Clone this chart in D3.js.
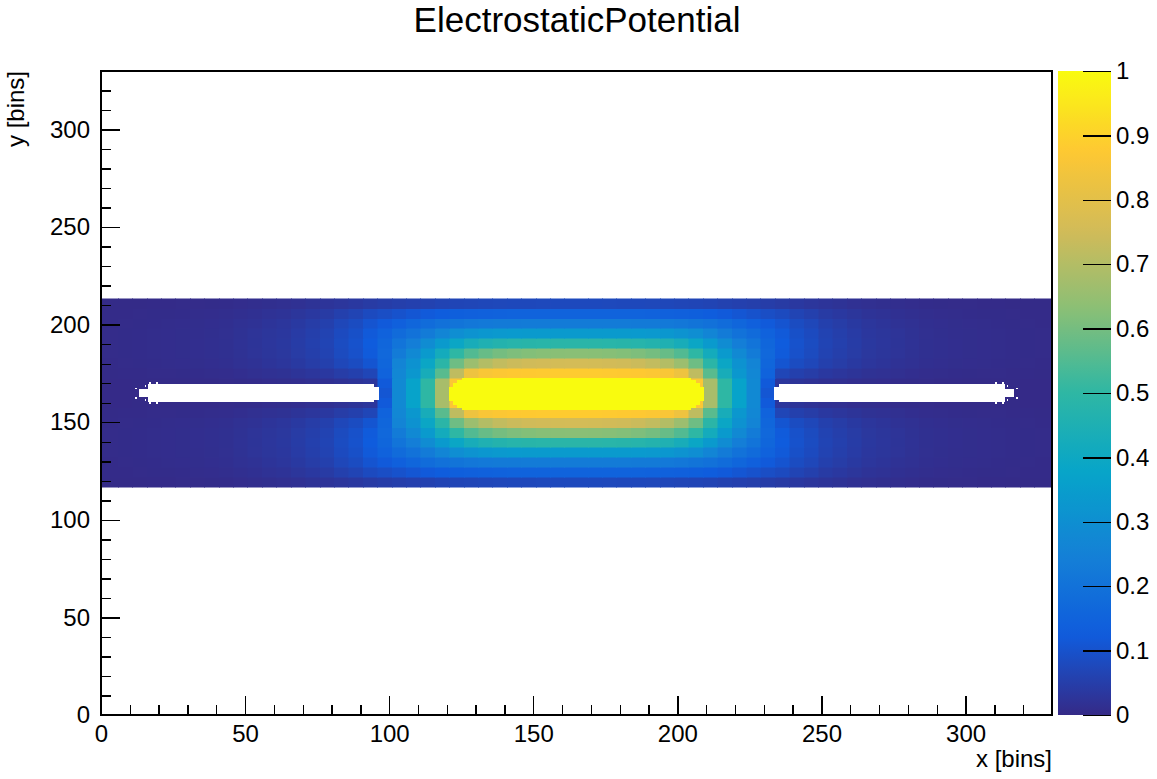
<!DOCTYPE html>
<html><head><meta charset="utf-8">
<script src="https://cdn.jsdelivr.net/npm/d3@7/dist/d3.min.js"></script>
<style>
body{margin:0;background:#fff}
text{font-family:"Liberation Sans",Arial,Helvetica,sans-serif;fill:#000}
</style>
</head><body><svg id="c" width="1157" height="779"></svg>
<script>
// ---------------- data ----------------
const chartTitle = "ElectrostaticPotential";
const xTitle = "x [bins]";
const yTitle = "y [bins]";
const xMajorTicks = [0, 50, 100, 150, 200, 250, 300];
const yMajorTicks = [0, 50, 100, 150, 200, 250, 300];
const zTicks = [0, 0.1, 0.2, 0.3, 0.4, 0.5, 0.6, 0.7, 0.8, 0.9, 1];
const zTickLabels = ["0", "0.1", "0.2", "0.3", "0.4", "0.5", "0.6", "0.7", "0.8", "0.9", "1"];

// kBird palette stops
const birdStops = [0, 0.125, 0.25, 0.375, 0.5, 0.625, 0.75, 0.875, 1];
const birdColors = ["#352a87", "#0f5cdd", "#1481d6", "#06a4ca", "#2eb7a4", "#87bf77", "#d1bb59", "#fec832", "#f9fb0e"];

// bin edges of the coarse potential grid (in bins)
const xBinEdges = [0, 6, 11, 16, 21, 26, 31, 36, 41, 46, 51, 56, 61, 66, 71, 76, 81, 86, 91, 96, 101, 106, 111, 116, 121, 126, 131, 136, 141, 146, 151, 156, 161,
  169, 174, 179, 184, 189, 194, 199, 204, 209, 214, 219, 224, 229, 234, 239, 244, 249, 254, 259, 264, 269, 274, 279, 284, 289, 294, 299, 304, 309, 314, 319, 324, 330];
const yBandBottom = 116.8, yBandTop = 213.3, yBinCount = 19;

// potential rows (65 columns each), named by distance from the electrode plane
const rowTop8 = [.002,.002,.002,.003,.003,.004,.004,.005,.006,.008,.010,.012,.014,.018,.022,.026,.031,.036,.042,.048,.052,.056,.060,.065,.068,.070,.072,.074,.075,.076,.077,.078, .078, .078,.077,.076,.075,.074,.072,.070,.068,.065,.060,.056,.052,.048,.042,.036,.031,.026,.022,.018,.014,.012,.010,.008,.006,.005,.004,.004,.003,.003,.002,.002,.002];
const rowTop7 = [.003,.003,.004,.005,.005,.006,.007,.008,.010,.013,.016,.020,.023,.029,.036,.042,.055,.065,.081,.090,.100,.110,.120,.128,.135,.140,.143,.146,.148,.150,.150,.150, .150, .150,.150,.150,.148,.146,.143,.140,.135,.128,.120,.110,.100,.090,.081,.065,.055,.042,.036,.029,.023,.020,.016,.013,.010,.008,.007,.006,.005,.005,.004,.003,.003];
const rowTop6 = [.003,.004,.005,.006,.007,.008,.009,.011,.013,.017,.021,.026,.030,.038,.047,.055,.072,.085,.106,.120,.140,.160,.180,.195,.207,.216,.222,.226,.228,.230,.230,.230, .230, .230,.230,.230,.228,.226,.222,.216,.207,.195,.180,.160,.140,.120,.106,.085,.072,.055,.047,.038,.030,.026,.021,.017,.013,.011,.009,.008,.007,.006,.005,.004,.003];
const rowTop5 = [.004,.005,.006,.007,.008,.009,.010,.012,.014,.019,.024,.029,.033,.043,.052,.062,.081,.095,.119,.145,.175,.200,.230,.265,.295,.315,.327,.334,.338,.340,.340,.340, .340, .340,.340,.340,.338,.334,.327,.315,.295,.265,.230,.200,.175,.145,.119,.095,.081,.062,.052,.043,.033,.029,.024,.019,.014,.012,.010,.009,.008,.007,.006,.005,.004];
const rowTop4 = [.004,.005,.006,.007,.008,.009,.011,.013,.015,.020,.025,.030,.035,.045,.055,.065,.085,.100,.125,.160,.205,.240,.290,.340,.390,.430,.455,.470,.478,.482,.485,.486, .486, .486,.485,.482,.478,.470,.455,.430,.390,.340,.290,.240,.205,.160,.125,.100,.085,.065,.055,.045,.035,.030,.025,.020,.015,.013,.011,.009,.008,.007,.006,.005,.004];
const rowTop3 = [.004,.005,.006,.007,.008,.009,.011,.013,.015,.019,.024,.029,.034,.044,.053,.063,.082,.097,.122,.165,.230,.280,.340,.420,.500,.550,.580,.600,.612,.620,.625,.628, .630, .628,.625,.620,.612,.600,.580,.550,.500,.420,.340,.280,.230,.165,.122,.097,.082,.063,.053,.044,.034,.029,.024,.019,.015,.013,.011,.009,.008,.007,.006,.005,.004];
const rowTop2 = [.003,.004,.005,.006,.007,.008,.009,.011,.013,.017,.021,.026,.030,.038,.047,.055,.072,.085,.108,.160,.260,.310,.390,.490,.590,.660,.700,.725,.740,.748,.753,.756, .758, .756,.753,.748,.740,.725,.700,.660,.590,.490,.390,.310,.260,.160,.108,.085,.072,.055,.047,.038,.030,.026,.021,.017,.013,.011,.009,.008,.007,.006,.005,.004,.003];
const rowTop1 = [.002,.003,.003,.004,.004,.005,.006,.007,.008,.011,.014,.017,.019,.025,.030,.036,.047,.055,.070,.150,.270,.330,.430,.560,.720,.830,.860,.870,.875,.878,.880,.882, .883, .882,.880,.878,.875,.870,.860,.830,.720,.560,.430,.330,.270,.150,.070,.055,.047,.036,.030,.025,.019,.017,.014,.011,.008,.007,.006,.005,.004,.004,.003,.003,.002];
const rowEdge = [.001,.001,.002,.002,.002,.002,.003,.003,.004,.005,.006,.008,.009,.011,.014,.016,.021,.025,.031,.120,.280,.370,.500,.680,.870,1,1,1,1,1,1,1, 1, 1,1,1,1,1,1,1,.870,.680,.500,.370,.280,.120,.031,.025,.021,.016,.014,.011,.009,.008,.006,.005,.004,.003,.003,.002,.002,.002,.002,.001,.001];
const rowMid = [.001,.001,.001,.001,.001,.001,.001,.001,.001,.001,.001,.001,.001,.001,.001,.001,.001,.001,.001,.110,.280,.370,.500,.680,.870,1,1,1,1,1,1,1, 1, 1,1,1,1,1,1,1,.870,.680,.500,.370,.280,.110,.001,.001,.001,.001,.001,.001,.001,.001,.001,.001,.001,.001,.001,.001,.001,.001,.001,.001,.001];
// rows from bottom (bin 0) to top (bin 18); the field is mirror-symmetric about y = 165
const potentialRows = [rowTop8, rowTop7, rowTop6, rowTop5, rowTop4, rowTop3, rowTop2, rowTop1, rowEdge, rowMid,
                       rowEdge, rowTop1, rowTop2, rowTop3, rowTop4, rowTop5, rowTop6, rowTop7, rowTop8];

// electrodes: [x0, x1, y0, y1] pieces (bins); grounded ones are empty (white) bins
const groundElectrodes = [
  [13.1, 16.2, 162.9, 167.0], [16.2, 94.9, 160.2, 169.6], [94.9, 96.6, 161.5, 168.2],
  [11.9, 12.5, 167.2, 167.8], [11.9, 12.5, 162.1, 162.7], [15.1, 15.7, 168.1, 168.9], [15.1, 15.7, 161.1, 161.9],
  [16.8, 17.5, 169.6, 170.6], [19.1, 19.8, 169.6, 170.6], [16.8, 17.5, 159.2, 160.2], [19.1, 19.8, 159.2, 160.2],
  [233.4, 235.1, 161.5, 168.2], [235.1, 313.8, 160.2, 169.6], [313.8, 316.9, 162.9, 167.0],
  [317.5, 318.1, 167.2, 167.8], [317.5, 318.1, 162.1, 162.7], [314.3, 314.9, 168.1, 168.9], [314.3, 314.9, 161.1, 161.9],
  [312.5, 313.2, 169.6, 170.6], [310.2, 310.9, 169.6, 170.6], [312.5, 313.2, 159.2, 160.2], [310.2, 310.9, 159.2, 160.2]
];
const centralElectrode = [
  [120.8, 122.0, 161.0, 168.2], [122.0, 123.5, 159.0, 170.3], [123.5, 125.3, 157.4, 171.8],
  [125.3, 204.7, 156.4, 172.7],
  [204.7, 206.5, 157.4, 171.8], [206.5, 208.0, 159.0, 170.3], [208.0, 209.2, 161.0, 168.2]
];
const centralElectrodeValue = 1;

// ---------------- drawing ----------------
const svg = d3.select("#c");
const W = 1157, H = 779;
const frame = {l: 101, r: 1052, t: 71, b: 715};
const x = d3.scaleLinear().domain([0, 330]).range([frame.l, frame.r]);
const y = d3.scaleLinear().domain([0, 330]).range([frame.b, frame.t]);
const z = d3.scaleLinear().domain(birdStops).range(birdColors).interpolate(d3.interpolateRgb).clamp(true);

svg.append("rect").attr("width", W).attr("height", H).attr("fill", "#fff");

// cells
const yEdges = d3.range(yBinCount + 1).map(i => yBandBottom + i * (yBandTop - yBandBottom) / yBinCount);
const cells = [];
potentialRows.forEach((row, i) => {
  row.forEach((v, j) => {
    cells.push({x0: xBinEdges[j], x1: xBinEdges[j + 1], y0: yEdges[i], y1: yEdges[i + 1], v});
  });
});
const gCells = svg.append("g").attr("shape-rendering", "crispEdges");
gCells.selectAll("rect.cell").data(cells.filter(d => d.v > 0)).join("rect")
  .attr("class", "cell")
  .attr("x", d => x(d.x0)).attr("width", d => x(d.x1) - x(d.x0))
  .attr("y", d => y(d.y1)).attr("height", d => y(d.y0) - y(d.y1))
  .attr("fill", d => z(d.v)).attr("stroke", d => z(d.v)).attr("stroke-width", 0.5);

// electrodes
gCells.selectAll("rect.gnd").data(groundElectrodes).join("rect")
  .attr("class", "gnd")
  .attr("x", d => x(d[0])).attr("width", d => x(d[1]) - x(d[0]))
  .attr("y", d => y(d[3])).attr("height", d => y(d[2]) - y(d[3]))
  .attr("fill", "#fff");
gCells.selectAll("rect.hv").data(centralElectrode).join("rect")
  .attr("class", "hv")
  .attr("x", d => x(d[0])).attr("width", d => x(d[1]) - x(d[0]))
  .attr("y", d => y(d[3])).attr("height", d => y(d[2]) - y(d[3]))
  .attr("fill", z(centralElectrodeValue));

// axes
const fontSize = 24;
const xMinor = d3.range(0, 331, 10).filter(v => v % 50 !== 0);
const yMinor = d3.range(0, 331, 10).filter(v => v % 50 !== 0);

const gx = svg.append("g").attr("transform", `translate(0,${frame.b})`);
gx.append("g").call(d3.axisBottom(x).tickValues(xMinor).tickSize(-10).tickSizeOuter(0).tickFormat(""));
gx.append("g").call(d3.axisBottom(x).tickValues(xMajorTicks).tickSize(-19).tickSizeOuter(0).tickPadding(10).tickFormat(d3.format("d")));
gx.selectAll(".domain").remove();

const gy = svg.append("g").attr("transform", `translate(${frame.l},0)`);
gy.append("g").call(d3.axisLeft(y).tickValues(yMinor).tickSize(-10).tickSizeOuter(0).tickFormat(""));
gy.append("g").call(d3.axisLeft(y).tickValues(yMajorTicks).tickSize(-19).tickSizeOuter(0).tickPadding(11).tickFormat(d3.format("d")));
gy.selectAll(".domain").remove();

svg.selectAll(".tick line").attr("stroke", "#000").attr("stroke-width", 1.4).attr("shape-rendering", "crispEdges");
svg.selectAll(".tick text").attr("font-size", fontSize).attr("font-family", "Liberation Sans, Arial, sans-serif").attr("fill", "#000");

// frame
svg.append("rect").attr("x", frame.l).attr("y", frame.t)
  .attr("width", frame.r - frame.l).attr("height", frame.b - frame.t)
  .attr("fill", "none").attr("stroke", "#000").attr("stroke-width", 1.4).attr("shape-rendering", "crispEdges");

// color bar
const cb = {l: 1058, r: 1111};
const zy = d3.scaleLinear().domain([0, 1]).range([frame.b, frame.t]);
const defs = svg.append("defs");
const grad = defs.append("linearGradient").attr("id", "bird").attr("x1", 0).attr("y1", 1).attr("x2", 0).attr("y2", 0);
d3.range(0, 1.0001, 0.02).forEach(t => grad.append("stop").attr("offset", t).attr("stop-color", z(t)));
svg.append("rect").attr("x", cb.l).attr("y", frame.t).attr("width", cb.r - cb.l).attr("height", frame.b - frame.t)
  .attr("fill", "url(#bird)");
const gz = svg.append("g").attr("transform", `translate(${cb.r},0)`);
gz.call(d3.axisRight(zy).tickValues(zTicks).tickSize(-28).tickSizeOuter(0).tickPadding(5)
  .tickFormat((d, i) => zTickLabels[i]));
gz.select(".domain").remove();
gz.selectAll(".tick line").attr("stroke", "#000").attr("stroke-width", 1.4).attr("shape-rendering", "crispEdges");
gz.selectAll(".tick text").attr("font-size", fontSize).attr("fill", "#000");

// titles
svg.append("text").attr("x", 577).attr("y", 32).attr("text-anchor", "middle")
  .attr("font-size", 35).text(chartTitle);
svg.append("text").attr("x", frame.r).attr("y", 767).attr("text-anchor", "end")
  .attr("font-size", fontSize).text(xTitle);
svg.append("text").attr("transform", `translate(24,${frame.t}) rotate(-90)`).attr("text-anchor", "end")
  .attr("font-size", fontSize).text(yTitle);
</script>
</body></html>
